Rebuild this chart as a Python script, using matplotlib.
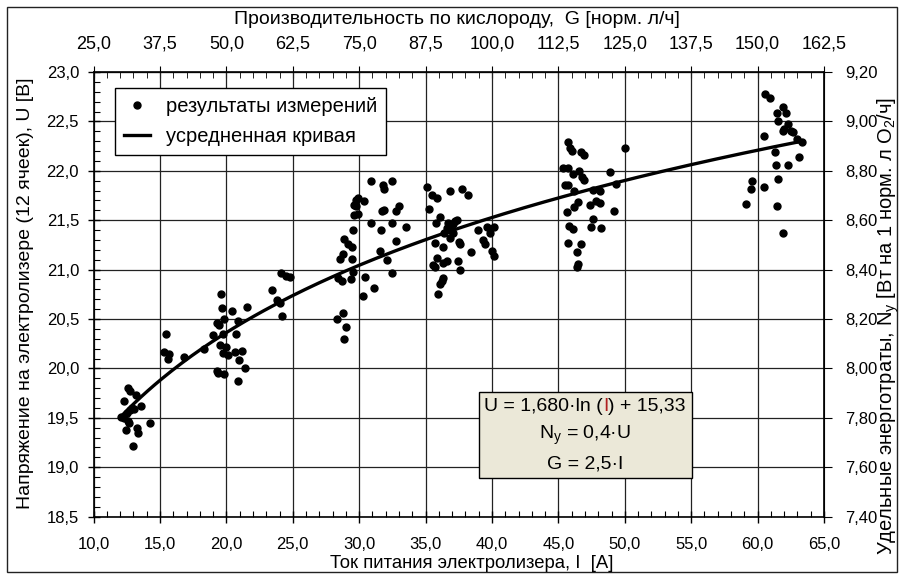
import numpy as np
import matplotlib
matplotlib.use('Agg')
import matplotlib.pyplot as plt
from matplotlib.ticker import MultipleLocator, FuncFormatter
from matplotlib.patches import Rectangle
from matplotlib.offsetbox import TextArea, HPacker, VPacker, AnchoredOffsetbox

plt.rcParams['font.family'] = ['Liberation Sans', 'DejaVu Sans']
plt.rcParams['mathtext.fontset'] = 'custom'
plt.rcParams['mathtext.rm'] = 'Liberation Sans'
plt.rcParams['mathtext.it'] = 'Liberation Sans:italic'
plt.rcParams['font.size'] = 12

# measured points: current I [A], voltage U [V]
I_meas = [12.57, 12.74, 12.31, 13.19, 13.57, 12.89, 12.74, 12.49, 12.06, 12.31,
          12.57, 12.69, 12.44, 13.24, 13.32, 14.25, 12.99, 13.04,
          15.45, 15.30, 15.70, 15.63, 16.83, 18.31,
          19.64, 19.32, 19.47, 19.84, 20.45, 21.53, 20.85, 20.70, 19.02, 19.77,
          19.52, 19.94, 19.72, 20.10, 20.65, 21.20, 20.95, 21.40, 19.27, 19.34,
          19.82, 20.90,
          19.57, 23.41, 23.78, 24.03, 24.16, 24.11, 24.49, 24.79,
          30.87, 31.77, 31.89, 32.44, 29.73, 29.93, 30.36, 29.61, 29.73, 29.93,
          29.64, 31.69, 31.89, 32.77, 33.02, 30.87, 32.50, 31.62, 29.56, 28.88,
          29.18, 29.43, 28.80, 28.55, 29.43, 32.75, 31.57, 32.12, 32.50, 29.56,
          28.38, 28.68, 29.36, 30.44, 31.14, 30.26, 28.30, 28.80, 29.00, 28.88,
          35.13, 35.46, 35.83, 36.84, 37.72, 38.17, 35.26, 36.08, 35.78, 33.50,
          36.71, 37.04, 37.21, 37.39, 36.59, 36.84, 37.09, 36.39, 36.80, 35.71,
          36.29, 37.54, 37.60, 38.40, 38.97, 39.65, 39.85, 40.17, 39.35, 39.50,
          40.00, 40.17, 35.83, 35.58, 35.70, 36.33, 36.60, 37.46, 37.60, 36.33,
          36.20, 36.08, 35.96,
          45.75, 45.90, 46.05, 46.70, 46.93, 50.00, 45.37, 45.75, 46.12, 46.55,
          46.75, 46.95, 48.89, 45.50, 45.75, 46.20, 47.58, 48.13, 49.34, 46.50,
          46.20, 45.62, 47.38, 47.81, 48.13, 49.19, 47.63, 45.82, 46.10, 47.43,
          48.18, 45.75, 46.70, 46.42, 46.50, 46.42,
          60.56, 60.93, 61.89, 61.44, 62.11, 61.56, 62.32, 61.94, 61.97, 62.52,
          62.70, 60.50, 62.99, 63.32, 61.31, 63.12, 61.37, 62.27, 61.51, 59.55,
          59.48, 60.50, 59.13, 61.44, 61.94]
U_meas = [19.80, 19.77, 19.67, 19.73, 19.62, 19.60, 19.58, 19.55, 19.51, 19.50,
          19.47, 19.45, 19.38, 19.40, 19.35, 19.45, 19.21, 19.59,
          20.35, 20.17, 20.15, 20.10, 20.12, 20.20,
          20.61, 20.46, 20.44, 20.50, 20.58, 20.62, 20.48, 20.35, 20.34, 20.35,
          20.24, 20.22, 20.16, 20.14, 20.17, 20.18, 20.08, 20.00, 19.97, 19.95,
          19.94, 19.87,
          20.75, 20.79, 20.69, 20.66, 20.53, 20.97, 20.94, 20.93,
          21.90, 21.86, 21.82, 21.90, 21.70, 21.72, 21.69, 21.65, 21.64, 21.56,
          21.55, 21.59, 21.60, 21.59, 21.64, 21.47, 21.47, 21.40, 21.40, 21.31,
          21.26, 21.23, 21.16, 21.11, 21.11, 21.29, 21.19, 21.10, 20.97, 20.98,
          20.91, 20.88, 20.90, 20.93, 20.81, 20.73, 20.50, 20.56, 20.42, 20.30,
          21.84, 21.76, 21.72, 21.80, 21.82, 21.76, 21.61, 21.53, 21.47, 21.43,
          21.47, 21.46, 21.49, 21.50, 21.42, 21.40, 21.37, 21.37, 21.32, 21.27,
          21.23, 21.28, 21.26, 21.18, 21.40, 21.43, 21.37, 21.43, 21.30, 21.26,
          21.19, 21.14, 21.12, 21.05, 21.03, 21.07, 21.09, 21.09, 21.00, 20.91,
          20.88, 20.85, 20.75,
          22.29, 22.23, 22.20, 22.19, 22.16, 22.23, 22.03, 22.03, 21.97, 22.00,
          21.94, 21.91, 21.99, 21.86, 21.86, 21.80, 21.81, 21.80, 21.87, 21.68,
          21.63, 21.58, 21.65, 21.69, 21.67, 21.59, 21.51, 21.44, 21.41, 21.43,
          21.42, 21.27, 21.26, 21.18, 21.06, 21.03,
          22.78, 22.74, 22.65, 22.59, 22.58, 22.50, 22.47, 22.40, 22.42, 22.40,
          22.39, 22.35, 22.32, 22.29, 22.19, 22.14, 22.06, 22.06, 21.92, 21.90,
          21.82, 21.84, 21.66, 21.64, 21.37]

# averaged curve U = a*ln(I) + b
fit_a = 1.680
fit_b = 15.33
fit_I_min, fit_I_max = 12.0, 63.3


def comma(fmt):
    return FuncFormatter(lambda v, pos: fmt.format(v).replace('.', ','))


W, H = 904, 578
fig = plt.figure(figsize=(W / 100, H / 100), dpi=100)
ax = fig.add_axes([93.6 / W, 1 - 516.6 / H, (824 - 93.6) / W, (516.6 - 72) / H])

# chart area frame
fig.patches.append(Rectangle((7 / W, 6 / H), 890 / W, 565 / H, transform=fig.transFigure,
                             fill=False, edgecolor='#222222', linewidth=1.0))

ax.set_xlim(10, 65)
ax.set_ylim(18.5, 23.0)
ax.xaxis.set_major_locator(MultipleLocator(5))
ax.xaxis.set_minor_locator(MultipleLocator(1))
ax.yaxis.set_major_locator(MultipleLocator(0.5))
ax.yaxis.set_minor_locator(MultipleLocator(0.1))
ax.xaxis.set_major_formatter(comma('{:.1f}'))
ax.yaxis.set_major_formatter(comma('{:.1f}'))
ax.tick_params(which='major', direction='inout', length=9, width=1, labelsize=12)
ax.tick_params(axis='y', which='major', pad=6)
ax.tick_params(axis='x', which='major', pad=10)
ax.tick_params(which='minor', direction='in', length=4.5, width=0.8)
ax.grid(True, which='major', color='#222222', linewidth=0.9)
ax.set_axisbelow(True)
for s in ax.spines.values():
    s.set_linewidth(1.2)

I_fit = np.linspace(fit_I_min, fit_I_max, 200)
U_fit = fit_a * np.log(I_fit) + fit_b

ax.plot(I_meas, U_meas, 'o', color='black', markersize=5, label='результаты измерений', zorder=3)
ax.plot(I_fit, U_fit, color='black', linewidth=2.4, label='усредненная кривая', zorder=4)

top = ax.secondary_xaxis('top', functions=(lambda i: 2.5 * i, lambda g: g / 2.5))
top.set_xticks(np.arange(25, 163, 12.5))
top.xaxis.set_minor_locator(MultipleLocator(2.5))
top.xaxis.set_major_formatter(comma('{:.1f}'))
top.tick_params(which='major', direction='inout', length=9, labelsize=13, pad=9.5)
top.tick_params(which='minor', direction='in', length=4.5)

right = ax.secondary_yaxis('right', functions=(lambda u: 0.4 * u, lambda n: n / 0.4))
right.set_yticks(np.round(np.arange(7.4, 9.21, 0.2), 2))
right.yaxis.set_major_formatter(comma('{:.2f}'))
right.tick_params(which='major', direction='out', length=6, labelsize=12, pad=9)
right.tick_params(which='minor', length=0)

# axis titles placed in figure pixels
fig.text(457 / W, 1 - 20 / H, 'Производительность по кислороду,  G [норм. л/ч]',
         ha='center', va='center', fontsize=14)
fig.text(472 / W, 1 - 564 / H, 'Ток питания электролизера, I  [A]',
         ha='center', va='center', fontsize=13.3)
fig.text(26 / W, 1 - 293 / H, 'Напряжение на электролизере (12 ячеек), U [В]',
         ha='center', va='center', rotation=90, fontsize=14)
fig.text(888 / W, 1 - 326 / H,
         'Удельные энерготраты, N$_\\mathrm{y}$ [Вт на 1 норм. л O$_\\mathrm{2}$/ч]',
         ha='center', va='center', rotation=90, fontsize=14.5)

leg = ax.legend(loc='upper left', bbox_to_anchor=(0.029, 0.964), borderaxespad=0,
                fontsize=14.5, frameon=True, fancybox=False, edgecolor='black',
                framealpha=1, handlelength=1.3, handletextpad=0.8, borderpad=0.45,
                labelspacing=0.55)
leg.get_frame().set_linewidth(1.0)

# formula box, the current symbol in the first line is red
fp = dict(fontsize=14)
line1 = HPacker(children=[TextArea('U = 1,680·ln (', textprops=fp),
                          TextArea('I', textprops=dict(fontsize=14, color='#b02020')),
                          TextArea(') + 15,33', textprops=fp)],
                align='baseline', pad=0, sep=0)
line2 = TextArea('N$_\\mathrm{y}$ = 0,4·U', textprops=fp)
line3 = TextArea('G = 2,5·I', textprops=fp)
box = VPacker(children=[line1, line2, line3], align='center', pad=0, sep=6)
anch = AnchoredOffsetbox(loc='center', child=box, pad=0.35, borderpad=0, frameon=True,
                         bbox_to_anchor=(0.673, 0.183), bbox_transform=ax.transAxes)
anch.patch.set_facecolor('#ebe8d8')
anch.patch.set_edgecolor('black')
anch.patch.set_linewidth(1.0)
anch.set_zorder(5)
ax.add_artist(anch)

fig.savefig('out.png', dpi=100)
